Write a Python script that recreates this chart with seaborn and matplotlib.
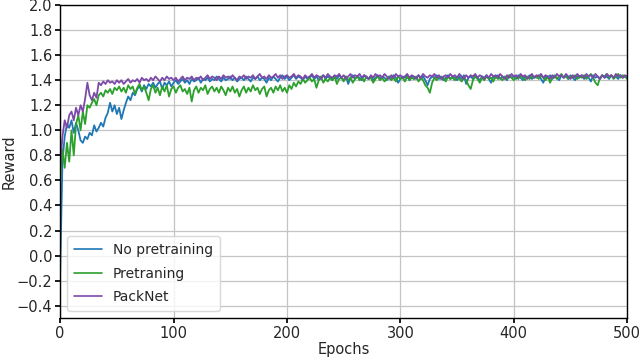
import numpy as np
import pandas as pd
import matplotlib
matplotlib.use("Agg")
import matplotlib.pyplot as plt
import seaborn as sns

epochs = list(range(0, 501, 2))

no_pretraining = [
    -0.14, 0.75, 0.95, 1.05, 1.02, 1.08, 0.98, 1.06, 1.00, 0.92,
    0.90, 0.95, 0.93, 0.98, 0.96, 1.04, 0.99, 1.02, 1.06, 1.03,
    1.10, 1.14, 1.22, 1.15, 1.20, 1.13, 1.18, 1.09, 1.16, 1.22,
    1.27, 1.24, 1.30, 1.28, 1.33, 1.35, 1.31, 1.36, 1.33, 1.37,
    1.35, 1.38, 1.34, 1.37, 1.39, 1.33, 1.38, 1.36, 1.39, 1.35,
    1.38, 1.40, 1.37, 1.39, 1.41, 1.38, 1.40, 1.37, 1.41, 1.39,
    1.40, 1.42, 1.38, 1.41, 1.40, 1.42, 1.39, 1.41, 1.40, 1.43,
    1.41, 1.39, 1.42, 1.40, 1.41, 1.43, 1.40, 1.42, 1.39, 1.41,
    1.42, 1.40, 1.43, 1.41, 1.39, 1.42, 1.41, 1.43, 1.40, 1.42,
    1.41, 1.38, 1.42, 1.40, 1.43, 1.41, 1.39, 1.42, 1.44, 1.41,
    1.43, 1.40, 1.42, 1.44, 1.41, 1.43, 1.42, 1.40, 1.43, 1.41,
    1.42, 1.44, 1.41, 1.43, 1.40, 1.42, 1.44, 1.41, 1.43, 1.42,
    1.40, 1.43, 1.41, 1.44, 1.42, 1.40, 1.43, 1.37, 1.42, 1.44,
    1.41, 1.43, 1.42, 1.40, 1.44, 1.42, 1.41, 1.43, 1.40, 1.42,
    1.44, 1.41, 1.43, 1.42, 1.40, 1.43, 1.41, 1.44, 1.42, 1.38,
    1.41, 1.43, 1.42, 1.44, 1.40, 1.43, 1.41, 1.42, 1.44, 1.41,
    1.43, 1.40, 1.36, 1.41, 1.43, 1.42, 1.44, 1.41, 1.43, 1.40,
    1.42, 1.44, 1.41, 1.43, 1.42, 1.40, 1.43, 1.41, 1.44, 1.37,
    1.42, 1.43, 1.41, 1.44, 1.42, 1.40, 1.43, 1.42, 1.44, 1.41,
    1.38, 1.43, 1.42, 1.44, 1.41, 1.43, 1.42, 1.40, 1.44, 1.42,
    1.43, 1.41, 1.44, 1.42, 1.40, 1.43, 1.42, 1.44, 1.41, 1.43,
    1.42, 1.44, 1.41, 1.38, 1.43, 1.42, 1.44, 1.41, 1.43, 1.42,
    1.40, 1.44, 1.42, 1.43, 1.41, 1.44, 1.42, 1.40, 1.43, 1.42,
    1.44, 1.41, 1.43, 1.42, 1.39, 1.44, 1.42, 1.43, 1.41, 1.44,
    1.42, 1.43, 1.41, 1.44, 1.42, 1.43, 1.41, 1.44, 1.42, 1.43,
    1.42,
]

pretraining = [
    0.62, 0.85, 0.70, 0.90, 0.75, 1.00, 0.80, 1.05, 1.12, 1.00,
    1.15, 1.05, 1.20, 1.18, 1.22, 1.25, 1.20, 1.28, 1.30, 1.27,
    1.32, 1.30, 1.33, 1.29, 1.34, 1.32, 1.35, 1.31, 1.34, 1.30,
    1.36, 1.33, 1.35, 1.29, 1.34, 1.37, 1.32, 1.35, 1.30, 1.24,
    1.33, 1.36, 1.30, 1.34, 1.28, 1.35, 1.31, 1.36, 1.27, 1.33,
    1.35, 1.30, 1.34, 1.36, 1.31, 1.33, 1.29, 1.34, 1.23, 1.32,
    1.35, 1.30, 1.34, 1.32, 1.36, 1.29, 1.33, 1.35, 1.31, 1.34,
    1.30, 1.35, 1.32, 1.28, 1.34, 1.31, 1.35, 1.30, 1.33, 1.27,
    1.32, 1.35, 1.30, 1.34, 1.31, 1.36, 1.32, 1.34, 1.29, 1.33,
    1.35, 1.27, 1.32, 1.34, 1.30, 1.35, 1.32, 1.36, 1.31, 1.34,
    1.30, 1.36, 1.33, 1.38, 1.35, 1.39, 1.37, 1.41, 1.38, 1.40,
    1.42, 1.39, 1.41, 1.34, 1.40, 1.43, 1.38, 1.41, 1.39, 1.42,
    1.40, 1.43, 1.37, 1.41, 1.42, 1.39, 1.43, 1.40, 1.42, 1.38,
    1.41, 1.43, 1.40, 1.42, 1.39, 1.43, 1.41, 1.42, 1.38, 1.41,
    1.43, 1.40, 1.42, 1.39, 1.41, 1.43, 1.40, 1.42, 1.39, 1.43,
    1.41, 1.42, 1.39, 1.43, 1.40, 1.42, 1.41, 1.43, 1.39, 1.42,
    1.40, 1.36, 1.34, 1.30, 1.38, 1.42, 1.40, 1.43, 1.41, 1.42,
    1.39, 1.43, 1.41, 1.42, 1.40, 1.43, 1.41, 1.39, 1.42, 1.40,
    1.36, 1.33, 1.40, 1.43, 1.41, 1.38, 1.42, 1.40, 1.43, 1.41,
    1.42, 1.39, 1.43, 1.41, 1.42, 1.40, 1.43, 1.41, 1.44, 1.42,
    1.40, 1.43, 1.41, 1.44, 1.42, 1.40, 1.43, 1.41, 1.44, 1.42,
    1.43, 1.41, 1.44, 1.42, 1.40, 1.43, 1.38, 1.42, 1.44, 1.41,
    1.43, 1.45, 1.42, 1.44, 1.41, 1.43, 1.42, 1.44, 1.41, 1.43,
    1.42, 1.44, 1.41, 1.43, 1.45, 1.42, 1.38, 1.36, 1.42, 1.44,
    1.43, 1.45, 1.42, 1.44, 1.41, 1.43, 1.45, 1.42, 1.44, 1.43,
    1.41,
]

packnet = [
    0.70, 0.95, 1.08, 1.02, 1.12, 1.15, 1.08, 1.18, 1.12, 1.20,
    1.15, 1.25, 1.38, 1.28, 1.24, 1.30, 1.26, 1.38, 1.36, 1.39,
    1.37, 1.40, 1.38, 1.39, 1.37, 1.40, 1.38, 1.40, 1.37, 1.39,
    1.41, 1.38, 1.40, 1.39, 1.41, 1.38, 1.42, 1.40, 1.41, 1.39,
    1.42, 1.40, 1.43, 1.41, 1.39, 1.42, 1.40, 1.43, 1.41, 1.42,
    1.40, 1.42, 1.39, 1.41, 1.43, 1.40, 1.42, 1.41, 1.43, 1.40,
    1.42, 1.41, 1.43, 1.40, 1.42, 1.44, 1.41, 1.43, 1.42, 1.40,
    1.43, 1.41, 1.44, 1.42, 1.43, 1.41, 1.44, 1.42, 1.40, 1.43,
    1.42, 1.44, 1.41, 1.43, 1.42, 1.44, 1.41, 1.43, 1.45, 1.42,
    1.43, 1.41, 1.44, 1.42, 1.43, 1.45, 1.42, 1.44, 1.41, 1.43,
    1.44, 1.42, 1.43, 1.45, 1.42, 1.44, 1.43, 1.41, 1.44, 1.42,
    1.43, 1.45, 1.42, 1.44, 1.43, 1.41, 1.44, 1.42, 1.45, 1.43,
    1.42, 1.44, 1.43, 1.45, 1.42, 1.44, 1.41, 1.43, 1.45, 1.42,
    1.44, 1.43, 1.45, 1.42, 1.44, 1.43, 1.41, 1.44, 1.42, 1.45,
    1.43, 1.44, 1.42, 1.45, 1.43, 1.41, 1.44, 1.42, 1.45, 1.43,
    1.44, 1.42, 1.43, 1.45, 1.42, 1.44, 1.43, 1.41, 1.44, 1.42,
    1.45, 1.43, 1.42, 1.44, 1.43, 1.45, 1.42, 1.44, 1.41, 1.43,
    1.44, 1.42, 1.45, 1.43, 1.44, 1.42, 1.45, 1.43, 1.41, 1.44,
    1.42, 1.44, 1.43, 1.45, 1.42, 1.44, 1.43, 1.41, 1.44, 1.42,
    1.45, 1.43, 1.44, 1.42, 1.45, 1.43, 1.41, 1.44, 1.42, 1.45,
    1.43, 1.44, 1.42, 1.45, 1.43, 1.44, 1.41, 1.43, 1.45, 1.42,
    1.44, 1.43, 1.45, 1.42, 1.44, 1.43, 1.41, 1.44, 1.42, 1.45,
    1.43, 1.44, 1.42, 1.45, 1.43, 1.41, 1.44, 1.42, 1.45, 1.43,
    1.44, 1.42, 1.45, 1.43, 1.44, 1.42, 1.45, 1.43, 1.41, 1.44,
    1.42, 1.45, 1.43, 1.44, 1.42, 1.45, 1.43, 1.44, 1.42, 1.44,
    1.43,
]

series_names = ["No pretraining", "Pretraning", "PackNet"]
series_colors = ["#1f77b4", "#2ca02c", "#7b4aa8"]

n = len(epochs)
assert len(no_pretraining) == n and len(pretraining) == n and len(packnet) == n

df = pd.DataFrame({
    "Epochs": epochs * 3,
    "Reward": no_pretraining + pretraining + packnet,
    "Method": [series_names[0]] * n + [series_names[1]] * n + [series_names[2]] * n,
})

sns.set_theme(style="whitegrid")
plt.rcParams["font.family"] = ["DejaVu Sans"]

fig = plt.figure(figsize=(6.4, 3.62), dpi=100)
ax = fig.add_axes([0.094, 0.121, 0.886, 0.865])

sns.lineplot(data=df, x="Epochs", y="Reward", hue="Method",
             palette=dict(zip(series_names, series_colors)),
             linewidth=1.3, ax=ax, legend=True)

ax.set_xlim(0, 500)
ax.set_ylim(-0.5, 2.0)
ax.set_xticks([0, 100, 200, 300, 400, 500])
ax.set_yticks([-0.4, -0.2, 0.0, 0.2, 0.4, 0.6, 0.8, 1.0, 1.2, 1.4, 1.6, 1.8, 2.0])
ax.set_yticklabels(["\u22120.4", "\u22120.2", "0.0", "0.2", "0.4", "0.6", "0.8",
                    "1.0", "1.2", "1.4", "1.6", "1.8", "2.0"])
ax.tick_params(axis="both", labelsize=10.5, length=3.5, color="black", direction="out",
               bottom=True, left=True, pad=2)
ax.set_xlabel("Epochs", fontsize=10.5, labelpad=1)
ax.set_ylabel("Reward", fontsize=10.5)
ax.yaxis.set_label_coords(-0.076, 0.5)
ax.grid(True, color="#c4c4c4", linewidth=0.9)
for s in ax.spines.values():
    s.set_color("black")
    s.set_linewidth(1.0)

leg = ax.legend(loc="lower left", fontsize=10, frameon=True, title=None,
                handlelength=2.0, borderpad=0.5, labelspacing=0.7,
                handletextpad=0.8)
leg.get_frame().set_edgecolor("#d0d0d0")
leg.get_frame().set_alpha(0.8)
for line in leg.get_lines():
    line.set_linewidth(1.2)

fig.savefig("out.png", dpi=100)
